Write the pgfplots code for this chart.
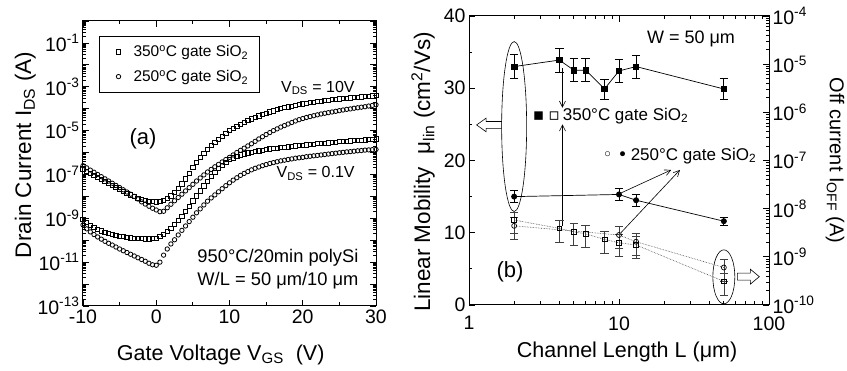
\documentclass[border=0pt]{standalone}
\usepackage{fontspec}
\setmainfont{Liberation Sans}
\newfontfamily\dejavu{DejaVu Sans}
\usepackage{pgfplots}
\pgfplotsset{compat=1.18}
\usepackage{pgfplotstable}
\usetikzlibrary{arrows.meta,shapes.geometric}
\newcommand{\fs}[1]{\fontsize{#1}{#1}\selectfont}

\pgfplotstableread{
V A B C D
-10.0 1.78e-7 2.51e-7 8.91e-10 5.01e-10
-9.5 1.41e-7 2.00e-7 6.31e-10 3.31e-10
-9.0 1.12e-7 1.58e-7 4.79e-10 2.40e-10
-8.5 8.91e-8 1.26e-7 3.80e-10 1.82e-10
-8.0 7.08e-8 1.00e-7 3.16e-10 1.41e-10
-7.5 5.89e-8 7.94e-8 2.69e-10 1.12e-10
-7.0 4.79e-8 6.31e-8 2.34e-10 8.91e-11
-6.5 3.89e-8 5.01e-8 2.09e-10 7.24e-11
-6.0 3.16e-8 3.98e-8 1.86e-10 6.03e-11
-5.5 2.63e-8 3.16e-8 1.70e-10 4.90e-11
-5.0 2.14e-8 2.51e-8 1.55e-10 3.98e-11
-4.5 1.74e-8 2.00e-8 1.45e-10 3.31e-11
-4.0 1.41e-8 1.58e-8 1.35e-10 2.75e-11
-3.5 1.17e-8 1.26e-8 1.29e-10 2.29e-11
-3.0 1.00e-8 1.00e-8 1.23e-10 1.91e-11
-2.5 8.32e-9 7.59e-9 1.20e-10 1.58e-11
-2.0 7.08e-9 5.62e-9 1.17e-10 1.32e-11
-1.5 6.46e-9 4.47e-9 1.15e-10 1.10e-11
-1.0 6.03e-9 3.55e-9 1.15e-10 8.91e-12
-0.5 5.75e-9 2.88e-9 1.17e-10 7.59e-12
0.0 5.62e-9 2.40e-9 1.26e-10 7.24e-12
0.5 5.75e-9 2.00e-9 1.48e-10 1.00e-11
1.0 6.31e-9 2.09e-9 1.86e-10 2.09e-11
1.5 7.94e-9 3.02e-9 2.51e-10 3.98e-11
2.0 1.05e-8 4.37e-9 3.55e-10 6.76e-11
2.5 1.48e-8 6.31e-9 5.25e-10 1.05e-10
3.0 2.24e-8 8.91e-9 7.94e-10 1.74e-10
3.5 3.72e-8 1.26e-8 1.26e-9 2.82e-10
4.0 6.31e-8 1.78e-8 2.09e-9 4.47e-10
4.5 1.15e-7 2.51e-8 3.55e-9 7.08e-10
5.0 2.09e-7 3.55e-8 6.17e-9 1.12e-9
5.5 3.63e-7 5.01e-8 1.05e-8 1.78e-9
6.0 6.03e-7 6.92e-8 1.78e-8 2.69e-9
6.5 9.33e-7 9.55e-8 3.02e-8 4.07e-9
7.0 1.41e-6 1.29e-7 5.01e-8 6.03e-9
7.5 2.04e-6 1.70e-7 8.13e-8 8.51e-9
8.0 2.95e-6 2.24e-7 1.26e-7 1.17e-8
8.5 4.07e-6 2.88e-7 1.91e-7 1.62e-8
9.0 5.62e-6 3.72e-7 2.69e-7 2.24e-8
9.5 7.59e-6 4.79e-7 3.63e-7 3.09e-8
10.0 1.00e-5 6.03e-7 4.68e-7 4.17e-8
10.5 1.26e-5 7.76e-7 5.75e-7 5.50e-8
11.0 1.58e-5 1.00e-6 6.76e-7 7.08e-8
11.5 1.95e-5 1.26e-6 7.76e-7 9.12e-8
12.0 2.40e-5 1.58e-6 8.71e-7 1.12e-7
12.5 2.88e-5 2.00e-6 9.55e-7 1.35e-7
13.0 3.39e-5 2.51e-6 1.05e-6 1.62e-7
13.5 3.98e-5 3.24e-6 1.12e-6 1.91e-7
14.0 4.68e-5 4.17e-6 1.20e-6 2.19e-7
14.5 5.50e-5 5.25e-6 1.29e-6 2.51e-7
15.0 6.31e-5 6.61e-6 1.38e-6 2.82e-7
15.5 7.08e-5 8.13e-6 1.45e-6 3.16e-7
16.0 7.94e-5 1.00e-5 1.51e-6 3.47e-7
16.5 8.91e-5 1.20e-5 1.58e-6 3.80e-7
17.0 1.00e-4 1.45e-5 1.66e-6 4.17e-7
17.5 1.10e-4 1.70e-5 1.74e-6 4.47e-7
18.0 1.20e-4 2.00e-5 1.82e-6 4.79e-7
18.5 1.32e-4 2.34e-5 1.91e-6 5.13e-7
19.0 1.41e-4 2.75e-5 2.00e-6 5.50e-7
19.5 1.55e-4 3.16e-5 2.09e-6 5.75e-7
20.0 1.66e-4 3.55e-5 2.19e-6 6.03e-7
20.5 1.78e-4 3.98e-5 2.24e-6 6.46e-7
21.0 1.86e-4 4.37e-5 2.34e-6 6.76e-7
21.5 2.00e-4 4.79e-5 2.40e-6 7.08e-7
22.0 2.09e-4 5.25e-5 2.51e-6 7.41e-7
22.5 2.19e-4 5.75e-5 2.57e-6 7.76e-7
23.0 2.34e-4 6.17e-5 2.69e-6 8.13e-7
23.5 2.45e-4 6.61e-5 2.75e-6 8.51e-7
24.0 2.57e-4 7.08e-5 2.88e-6 8.91e-7
24.5 2.69e-4 7.59e-5 2.95e-6 9.33e-7
25.0 2.82e-4 8.13e-5 3.09e-6 9.77e-7
25.5 2.88e-4 8.71e-5 3.16e-6 1.02e-6
26.0 3.02e-4 9.33e-5 3.24e-6 1.07e-6
26.5 3.09e-4 9.77e-5 3.39e-6 1.10e-6
27.0 3.24e-4 1.05e-4 3.47e-6 1.15e-6
27.5 3.31e-4 1.10e-4 3.55e-6 1.20e-6
28.0 3.47e-4 1.17e-4 3.72e-6 1.23e-6
28.5 3.55e-4 1.23e-4 3.80e-6 1.29e-6
29.0 3.72e-4 1.32e-4 3.89e-6 1.32e-6
29.5 3.80e-4 1.41e-4 3.98e-6 1.35e-6
30.0 3.98e-4 1.51e-4 4.17e-6 1.38e-6
}\ivdata

\pgfplotsset{
  mystyle/.style={
    scale only axis,
    axis line style={line width=1pt},
    every tick/.style={black, line width=0.8pt},
    major tick length=6pt, minor tick length=3.5pt,
    tick align=inside,
    tick label style={font=\fs{19.5}},
    label style={font=\fs{21.5}},
  },
  ebar/.style={error bars/.cd, y dir=both, #1,
    error bar style={solid, line width=0.7pt},
    error mark options={rotate=90, mark size=4.3pt, line width=0.7pt, solid}},
  ivsq/.style={only marks, mark=square, mark size=2.1pt, mark options={line width=0.8pt, fill=white}},
  ivci/.style={only marks, mark=o, mark size=2.2pt, mark options={line width=0.8pt, fill=white}},
}

\begin{document}
\begin{tikzpicture}
\path[use as bounding box] (0pt,0pt) rectangle (847pt,371pt);

% ---------------- panel (a)
\begin{axis}[mystyle,
  at={(83pt,65pt)}, anchor=south west, width=293pt, height=285pt,
  xmin=-10, xmax=30, xtick={-10,0,10,20,30}, xticklabels={-10,0,10,20,30},
  minor xtick={-5,5,15,25},
  ymode=log, ymin=1e-13, ymax=1,
  ytickten={-13,...,0},
  yticklabels={10\textsuperscript{-13},{},10\textsuperscript{-11},{},10\textsuperscript{-9},{},10\textsuperscript{-7},{},10\textsuperscript{-5},{},10\textsuperscript{-3},{},10\textsuperscript{-1},{}},
  xlabel={Gate Voltage V\textsubscript{GS}\ \ (V)},
  ylabel={Drain Current I\textsubscript{DS} (A)},
  x label style={at={(axis description cs:0.47,-0.19)}, anchor=base},
  y label style={at={(axis description cs:-0.177,0.53)}, anchor=base, font=\fs{22.5}},
  legend style={at={(axis description cs:0.055,0.947)}, anchor=north west, draw=black, line width=0.8pt, font=\fs{15.5}, inner xsep=9pt, inner ysep=7pt, row sep=8pt, column sep=9pt},
  legend image code/.code={\path[draw=none, fill=none] (-10pt,-2pt) rectangle (4pt,2pt); \draw[#1] plot coordinates {(0pt,0pt)};},
  legend cell align=left,
]
\addplot[ivsq] table[x=V,y=A] {\ivdata};
\addlegendentry{350\textsuperscript{o}C gate SiO\textsubscript{2}}
\addplot[ivci] table[x=V,y=B] {\ivdata};
\addlegendentry{250\textsuperscript{o}C gate SiO\textsubscript{2}}
\addplot[ivsq, forget plot] table[x=V,y=C] {\ivdata};
\addplot[ivci, forget plot] table[x=V,y=D] {\ivdata};

\node[font=\fs{22}] at (axis description cs:0.205,0.586) {(a)};
\node[font=\fs{16}, anchor=east] at (axis description cs:0.939,0.765) {V\textsubscript{DS} = 10V};
\node[font=\fs{16}, anchor=east] at (axis description cs:0.939,0.465) {V\textsubscript{DS} = 0.1V};
\node[font=\fs{18.3}, anchor=east] at (axis description cs:0.952,0.168) {950°C/20min polySi};
\node[font=\fs{18.3}, anchor=east] at (axis description cs:0.952,0.088) {W/L = 50 μm/10 μm};
\end{axis}

% ---------------- panel (b), left axis: mobility
\begin{axis}[mystyle,
  at={(469pt,66pt)}, anchor=south west, width=300pt, height=289pt,
  xmode=log, xmin=1, xmax=100, xtick={1,10,100}, xticklabels={1,10,100},
  xticklabel style={yshift=-8pt},
  ymin=0, ymax=40, ytick={0,10,20,30,40}, yticklabels={0,10,20,30,40},
  minor ytick={5,15,25,35},
  ytick pos=left,
  xlabel={Channel Length L (μm)},
  ylabel={Linear Mobility\ \ μ\textsubscript{lin} (cm\textsuperscript{2}/Vs)},
  x label style={at={(axis description cs:0.527,-0.18)}, anchor=base},
  y label style={at={(axis description cs:-0.13,0.46)}, anchor=base, font=\fs{22.5}},
]
\addplot[line width=0.7pt, mark=square*, mark size=2.7pt, ebar={y explicit}] coordinates {
(2,33.0) +- (0,1.65)
(4,33.9) +- (0,1.65)
(5,32.5) +- (0,1.6)
(6,32.5) +- (0,1.6)
(8,29.9) +- (0,1.4)
(10,32.4) +- (0,1.55)
(13,33.0) +- (0,1.6)
(50,29.9) +- (0,1.5)
};
\addplot[line width=0.7pt, mark=*, mark size=2.6pt, ebar={y explicit}] coordinates {
(2,15.0) +- (0,0.8)
(10,15.3) +- (0,0.8)
(13,14.5) +- (0,0.8)
(50,11.6) +- (0,0.6)
};

% annotations
\node[draw, ellipse, line width=0.6pt, minimum width=25pt, minimum height=170pt, inner sep=0pt] at (axis cs:2,24.7) {};
\node[draw, ellipse, line width=0.6pt, minimum width=22pt, minimum height=54pt, inner sep=0pt] at (axis cs:50,3.9) {};
\draw[line width=0.6pt, fill=white] (axis description cs:0.067,0.623)
  ++(12.5pt,3.4pt) -- ++(-15.5pt,0pt) -- ++(0pt,3.4pt) -- ++(-9.5pt,-6.8pt) -- ++(9.5pt,-6.8pt) -- ++(0pt,3.4pt) -- ++(15.5pt,0pt) -- cycle;
\draw[line width=0.6pt, fill=white] (axis description cs:0.931,0.098)
  ++(-11pt,3.5pt) -- ++(13pt,0pt) -- ++(0pt,4pt) -- ++(9pt,-7.5pt) -- ++(-9pt,-7.5pt) -- ++(0pt,4pt) -- ++(-13pt,0pt) -- cycle;
\draw[line width=0.6pt, -{Straight Barb[length=6pt,width=6pt]}] (axis cs:4.2,32.8) -- (axis cs:4.2,27.3);
\draw[line width=0.6pt, -{Straight Barb[length=6pt,width=6pt]}] (axis cs:4.2,11.0) -- (axis cs:4.2,25.0);
\draw[line width=0.6pt, -{Straight Barb[length=6pt,width=6pt]}] (axis cs:10.3,15.5) -- (axis cs:22.3,18.7);
\draw[line width=0.6pt, -{Straight Barb[length=6pt,width=6pt]}] (axis cs:10.3,10.0) -- (axis cs:25.5,18.7);

\node[font=\fs{17}, anchor=west, inner sep=0pt] at (axis description cs:0.212,0.654) {{\dejavu ▪\hspace{4pt}▫}\hspace{3pt}350°C gate SiO\textsubscript{2}};
\node[font=\fs{17}, anchor=west, inner sep=0pt] at (axis description cs:0.445,0.516) {{\dejavu ◦\hspace{5pt}•}\hspace{3pt}250°C gate SiO\textsubscript{2}};
\node[font=\fs{18}] at (axis description cs:0.74,0.92) {W = 50 μm};
\node[font=\fs{22}] at (axis description cs:0.137,0.114) {(b)};
\end{axis}

% ---------------- panel (b), right axis: off current
\begin{axis}[mystyle,
  at={(469pt,66pt)}, anchor=south west, width=300pt, height=289pt,
  xmode=log, xmin=1, xmax=100,
  axis x line=none, axis y line*=right,
  ymode=log, ymin=1e-10, ymax=1e-4,
  ytickten={-10,...,-4},
  yticklabels={10\textsuperscript{-10},10\textsuperscript{-9},10\textsuperscript{-8},10\textsuperscript{-7},10\textsuperscript{-6},10\textsuperscript{-5},10\textsuperscript{-4}},
  ylabel={Off current I\textsubscript{OFF} (A)},
  y label style={at={(axis description cs:1.203,0.50)}, anchor=base, rotate=180, font=\fs{20}},
]
\addplot[densely dotted, line width=0.6pt, black!75, mark=square, mark size=2.4pt, mark options={solid, black, fill=white, line width=0.7pt}, ebar={y explicit relative}] coordinates {
(2,5.8e-9) +- (0,0.48)
(4,3.9e-9) +- (0,0.48)
(5,3.3e-9) +- (0,0.48)
(6,3.0e-9) +- (0,0.48)
(8,2.3e-9) +- (0,0.48)
(10,1.96e-9) +- (0,0.48)
(13,1.76e-9) +- (0,0.48)
(50,3.1e-10) +- (0,0.48)
};
\addplot[densely dotted, line width=0.6pt, black!75, mark=o, mark size=2.5pt, mark options={solid, black, fill=white, line width=0.7pt}, ebar={y explicit relative}] coordinates {
(2,4.4e-9) +- (0,0.48)
(10,2.84e-9) +- (0,0.48)
(13,2.06e-9) +- (0,0.48)
(50,6.0e-10) +- (0,0.48)
};
\end{axis}
\end{tikzpicture}
\end{document}
